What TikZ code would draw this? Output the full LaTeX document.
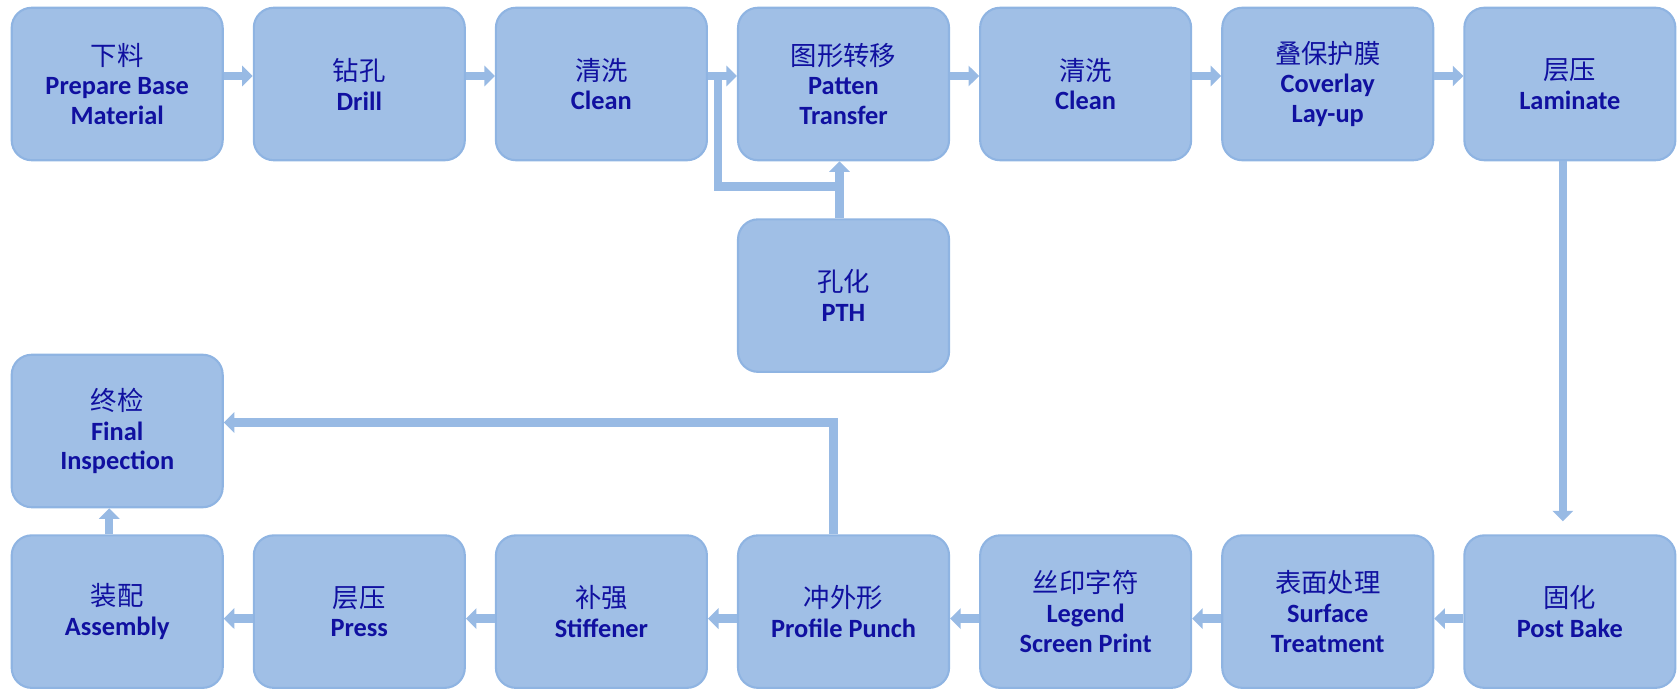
\documentclass[tikz,border=0pt]{standalone}
\usepackage{fontspec}
\setmainfont{Carlito}
\newfontfamily\cjk{Noto Sans CJK SC}
\usepackage{tikz}
\usetikzlibrary{positioning, arrows.meta}
\definecolor{boxfill}{RGB}{160,191,230}
\definecolor{boxline}{RGB}{143,180,226}
\definecolor{flowc}{RGB}{152,186,228}
\definecolor{textblue}{RGB}{16,16,160}

\begin{document}
\begin{tikzpicture}
    [stepnode/.style={rectangle, rounded corners=0.4cm, draw=boxline, line width=1.2pt, fill=boxfill,
        minimum width=4.22cm, minimum height=3.05cm, align=center, text=textblue,
        font=\fontsize{15}{17}\selectfont\bfseries},
    flow/.style={draw=flowc, line width=4.8pt, -{Triangle[width=11.5pt,length=6pt]}},
    bar/.style={draw=flowc, line width=4.8pt},
    node distance=0.58cm]

    \useasboundingbox (0,0) rectangle (33.54,13.76);

    %Nodes
    \node[stepnode](base) at (2.344,12.08){{\cjk\mdseries 下料}\\Prepare Base\\Material};
    \node[stepnode](drill)[right=of base]{{\cjk\mdseries 钻孔}\\Drill};
    \node[stepnode](clean1)[right=of drill]{{\cjk\mdseries 清洗}\\Clean};
    \node[stepnode](patten)[right=of clean1]{{\cjk\mdseries 图形转移}\\Patten\\Transfer};
    \node[stepnode](clean2)[right=of patten]{{\cjk\mdseries 清洗}\\Clean};
    \node[stepnode](coverlay)[right=of clean2]{{\cjk\mdseries 叠保护膜}\\Coverlay\\Lay-up};
    \node[stepnode](laminate)[right=of coverlay]{{\cjk\mdseries 层压}\\Laminate};
    \node[stepnode](pth)[below=1.14cm of patten]{{\cjk\mdseries 孔化}\\PTH};
    \node[stepnode](postbake)[below=7.46cm of laminate]{{\cjk\mdseries 固化}\\Post Bake};
    \node[stepnode](surface)[left=of postbake]{{\cjk\mdseries 表面处理}\\Surface\\Treatment};
    \node[stepnode](legend)[left=of surface]{{\cjk\mdseries 丝印字符}\\Legend\\Screen Print};
    \node[stepnode](punch)[left=of legend]{{\cjk\mdseries 冲外形}\\Profile Punch};
    \node[stepnode](stiffener)[left=of punch]{{\cjk\mdseries 补强}\\Stiffener};
    \node[stepnode](press)[left=of stiffener]{{\cjk\mdseries 层压}\\Press};
    \node[stepnode](assembly)[left=of press]{{\cjk\mdseries 装配}\\Assembly};
    \node[stepnode](final)[above=0.52cm of assembly]{{\cjk\mdseries 终检}\\Final\\Inspection};

    %Top row
    \draw[flow] ([yshift=1.6mm]base.east) -- ([yshift=1.6mm]drill.west);
    \draw[flow] ([yshift=1.6mm]drill.east) -- ([yshift=1.6mm]clean1.west);
    \draw[flow] ([yshift=1.6mm]clean1.east) -- ([yshift=1.6mm]patten.west);
    \draw[flow] ([yshift=1.6mm]patten.east) -- ([yshift=1.6mm]clean2.west);
    \draw[flow] ([yshift=1.6mm]clean2.east) -- ([yshift=1.6mm]coverlay.west);
    \draw[flow] ([yshift=1.6mm]coverlay.east) -- ([yshift=1.6mm]laminate.west);

    %PTH branch
    \draw[bar] ([xshift=2mm,yshift=1.6mm]clean1.east) |- ([xshift=-0.8mm,yshift=-5mm]patten.south);
    \draw[flow] ([xshift=-0.8mm]pth.north) -- ([xshift=-0.8mm]patten.south);

    %Down the right side
    \draw[flow] ([xshift=-1.4mm]laminate.south) -- ([xshift=-1.4mm,yshift=2.6mm]postbake.north);

    %Bottom row
    \draw[flow] ([yshift=-1.4mm]postbake.west) -- ([yshift=-1.4mm]surface.east);
    \draw[flow] ([yshift=-1.4mm]surface.west) -- ([yshift=-1.4mm]legend.east);
    \draw[flow] ([yshift=-1.4mm]legend.west) -- ([yshift=-1.4mm]punch.east);
    \draw[flow] ([yshift=-1.4mm]punch.west) -- ([yshift=-1.4mm]stiffener.east);
    \draw[flow] ([yshift=-1.4mm]stiffener.west) -- ([yshift=-1.4mm]press.east);
    \draw[flow] ([yshift=-1.4mm]press.west) -- ([yshift=-1.4mm]assembly.east);

    %To final inspection
    \draw[flow] ([xshift=-2mm]punch.north) |- ([yshift=1.7mm]final.east);
    \draw[flow] ([xshift=-1.6mm]assembly.north) -- ([xshift=-1.6mm]final.south);
\end{tikzpicture}
\end{document}
